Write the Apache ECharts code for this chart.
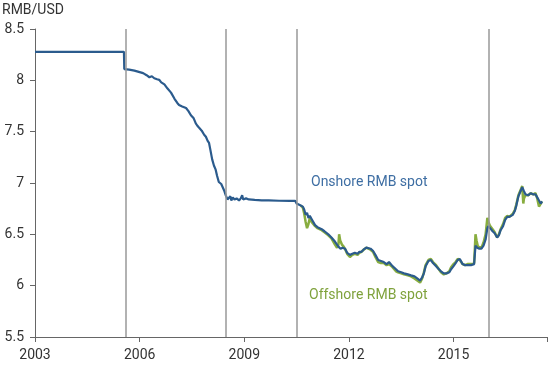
<!DOCTYPE html>
<html>
<head>
<meta charset="utf-8">
<script src="https://cdn.jsdelivr.net/npm/echarts@6/dist/echarts.min.js"></script>
<style>
html,body{margin:0;padding:0;background:#fff;}
#chart{width:550px;height:365px;}
</style>
</head>
<body>
<div id="chart"></div>
<script>
// ---- data (dates as decimal years) ----
var baseYear = 2003;
var xTickLabels = ['2003', '2006', '2009', '2012', '2015'];
var yTicks = [5.5, 6, 6.5, 7, 7.5, 8, 8.5];
var eventDates = [2005.6, 2008.47, 2010.5, 2016.0];

var onshoreDates = [2003.0,2005.55,2005.56,2005.7,2005.85,2006.0,2006.1,2006.2,2006.28,2006.35,2006.42,2006.5,2006.56,2006.62,2006.71,2006.8,2006.9,2007.0,2007.08,2007.13,2007.22,2007.33,2007.4,2007.47,2007.52,2007.55,2007.61,2007.65,2007.7,2007.78,2007.85,2007.9,2007.95,2007.99,2008.03,2008.08,2008.13,2008.18,2008.22,2008.27,2008.3,2008.34,2008.37,2008.42,2008.47,2008.52,2008.56,2008.6,2008.63,2008.67,2008.72,2008.78,2008.85,2008.9,2008.94,2008.97,2009.05,2009.13,2009.3,2009.5,2009.7,2010.0,2010.3,2010.46,2010.5,2010.55,2010.62,2010.68,2010.72,2010.76,2010.8,2010.84,2010.88,2010.93,2010.98,2011.03,2011.1,2011.16,2011.22,2011.3,2011.41,2011.5,2011.6,2011.66,2011.7,2011.76,2011.82,2011.89,2011.95,2012.03,2012.1,2012.17,2012.25,2012.3,2012.36,2012.42,2012.5,2012.55,2012.62,2012.69,2012.76,2012.84,2012.92,2013.0,2013.08,2013.15,2013.25,2013.35,2013.41,2013.5,2013.58,2013.69,2013.78,2013.88,2013.96,2014.04,2014.1,2014.15,2014.2,2014.28,2014.35,2014.41,2014.46,2014.5,2014.58,2014.64,2014.72,2014.8,2014.88,2014.93,2015.0,2015.06,2015.12,2015.18,2015.26,2015.33,2015.4,2015.5,2015.59,2015.61,2015.63,2015.68,2015.74,2015.8,2015.86,2015.92,2015.97,2016.0,2016.05,2016.12,2016.18,2016.25,2016.3,2016.35,2016.42,2016.48,2016.54,2016.6,2016.64,2016.7,2016.76,2016.8,2016.86,2016.92,2016.97,2017.02,2017.06,2017.14,2017.21,2017.28,2017.35,2017.4,2017.45,2017.5,2017.54];
var onshoreValues = [8.277,8.277,8.11,8.105,8.095,8.08,8.07,8.05,8.03,8.04,8.02,8.01,8.005,7.98,7.96,7.92,7.88,7.82,7.78,7.76,7.745,7.73,7.70,7.66,7.66,7.63,7.58,7.56,7.54,7.51,7.47,7.45,7.41,7.39,7.32,7.23,7.17,7.13,7.07,7.01,7.02,6.99,6.98,6.93,6.88,6.84,6.84,6.87,6.83,6.86,6.84,6.85,6.83,6.85,6.88,6.84,6.85,6.84,6.835,6.83,6.83,6.827,6.826,6.827,6.80,6.79,6.78,6.77,6.74,6.69,6.71,6.66,6.68,6.65,6.64,6.59,6.57,6.56,6.55,6.53,6.50,6.47,6.43,6.40,6.38,6.36,6.37,6.36,6.32,6.30,6.31,6.32,6.31,6.33,6.33,6.35,6.37,6.38,6.36,6.34,6.30,6.25,6.24,6.23,6.21,6.23,6.19,6.16,6.14,6.13,6.12,6.11,6.10,6.09,6.07,6.05,6.08,6.12,6.19,6.24,6.25,6.22,6.23,6.19,6.16,6.14,6.12,6.12,6.13,6.16,6.19,6.22,6.25,6.26,6.21,6.20,6.20,6.20,6.21,6.30,6.39,6.37,6.36,6.36,6.39,6.45,6.56,6.58,6.56,6.53,6.51,6.47,6.49,6.54,6.58,6.64,6.67,6.67,6.66,6.69,6.73,6.78,6.87,6.92,6.96,6.92,6.89,6.88,6.90,6.89,6.89,6.86,6.83,6.80,6.82];

var offshoreDates = [2010.62,2010.68,2010.72,2010.76,2010.8,2010.84,2010.88,2010.93,2010.98,2011.03,2011.1,2011.16,2011.22,2011.3,2011.41,2011.5,2011.6,2011.66,2011.7,2011.72,2011.75,2011.8,2011.85,2011.9,2011.95,2012.03,2012.1,2012.17,2012.25,2012.3,2012.36,2012.42,2012.5,2012.55,2012.62,2012.69,2012.76,2012.84,2012.92,2013.0,2013.08,2013.15,2013.25,2013.35,2013.41,2013.5,2013.58,2013.69,2013.78,2013.88,2013.96,2014.04,2014.1,2014.15,2014.2,2014.28,2014.35,2014.41,2014.46,2014.5,2014.58,2014.64,2014.72,2014.8,2014.88,2014.93,2015.0,2015.06,2015.12,2015.18,2015.26,2015.33,2015.4,2015.5,2015.59,2015.61,2015.63,2015.66,2015.7,2015.74,2015.8,2015.86,2015.92,2015.97,2016.0,2016.05,2016.12,2016.18,2016.25,2016.3,2016.35,2016.42,2016.48,2016.54,2016.6,2016.64,2016.7,2016.76,2016.8,2016.86,2016.92,2016.97,2017.0,2017.02,2017.06,2017.14,2017.21,2017.28,2017.35,2017.4,2017.45,2017.5,2017.54];
var offshoreValues = [6.78,6.76,6.70,6.62,6.56,6.60,6.66,6.62,6.62,6.58,6.56,6.55,6.54,6.52,6.49,6.46,6.40,6.37,6.40,6.50,6.44,6.40,6.38,6.35,6.31,6.28,6.30,6.31,6.30,6.32,6.33,6.35,6.37,6.38,6.35,6.33,6.28,6.23,6.22,6.22,6.20,6.21,6.18,6.14,6.13,6.12,6.11,6.10,6.09,6.07,6.05,6.03,6.07,6.13,6.20,6.25,6.26,6.23,6.24,6.20,6.16,6.13,6.11,6.12,6.14,6.18,6.21,6.23,6.26,6.25,6.21,6.20,6.21,6.21,6.22,6.35,6.50,6.44,6.38,6.37,6.37,6.42,6.50,6.66,6.62,6.58,6.55,6.52,6.47,6.50,6.55,6.60,6.66,6.68,6.67,6.67,6.70,6.74,6.79,6.88,6.93,6.97,6.80,6.85,6.88,6.88,6.90,6.89,6.90,6.85,6.77,6.80,6.82];

function pairs(d, v) {
  return d.map(function (t, i) { return [t - baseYear, v[i]]; });
}

var chart = echarts.init(document.getElementById('chart'), null, {renderer: 'canvas'});
var FONT = 'Roboto, "Noto Sans", sans-serif';
chart.setOption({
  animation: false,
  backgroundColor: '#ffffff',
  title: {
    text: 'RMB/USD', left: 2, top: 3, padding: 0,
    textStyle: {fontSize: 14, fontWeight: 'normal', color: '#333', fontFamily: FONT}
  },
  grid: {left: 35, right: 0, top: 29, bottom: 28, containLabel: false},
  xAxis: {
    type: 'value', min: 0, max: 14.68, interval: 3,
    axisLine: {show: true, lineStyle: {color: '#666', width: 1}},
    axisTick: {show: true, length: 5, inside: false, lineStyle: {color: '#666'}},
    splitLine: {show: false},
    axisLabel: {
      fontSize: 14, color: '#333', fontFamily: FONT, margin: 11,
      formatter: function (v) { var i = Math.round(v / 3); return xTickLabels[i] || ''; }
    }
  },
  yAxis: {
    type: 'value', min: yTicks[0], max: yTicks[yTicks.length - 1], interval: 0.5,
    axisLine: {show: true, lineStyle: {color: '#666', width: 1}},
    axisTick: {show: true, length: 5, inside: false, lineStyle: {color: '#666'}},
    splitLine: {show: false},
    axisLabel: {fontSize: 14, color: '#333', fontFamily: FONT, margin: 11}
  },
  graphic: [
    {type: 'text', left: 311, top: 175, style: {text: 'Onshore RMB spot', fill: '#3e6ea3', font: '14px ' + FONT}},
    {type: 'text', left: 309, top: 288, style: {text: 'Offshore RMB spot', fill: '#7fa23c', font: '14px ' + FONT}}
  ],
  series: [
    {
      name: 'Offshore RMB spot', type: 'line', showSymbol: false, symbol: 'none',
      data: pairs(offshoreDates, offshoreValues),
      lineStyle: {color: '#88ad3f', width: 2.5}, z: 3,
      markLine: {
        silent: true, symbol: ['none', 'none'], label: {show: false},
        lineStyle: {color: '#999', width: 1.5, type: 'solid'},
        data: eventDates.map(function (t) { return {xAxis: t - baseYear}; })
      }
    },
    {
      name: 'Onshore RMB spot', type: 'line', showSymbol: false, symbol: 'none',
      data: pairs(onshoreDates, onshoreValues),
      lineStyle: {color: '#2b5b8d', width: 2.2}, z: 4
    }
  ]
});
</script>
</body>
</html>
